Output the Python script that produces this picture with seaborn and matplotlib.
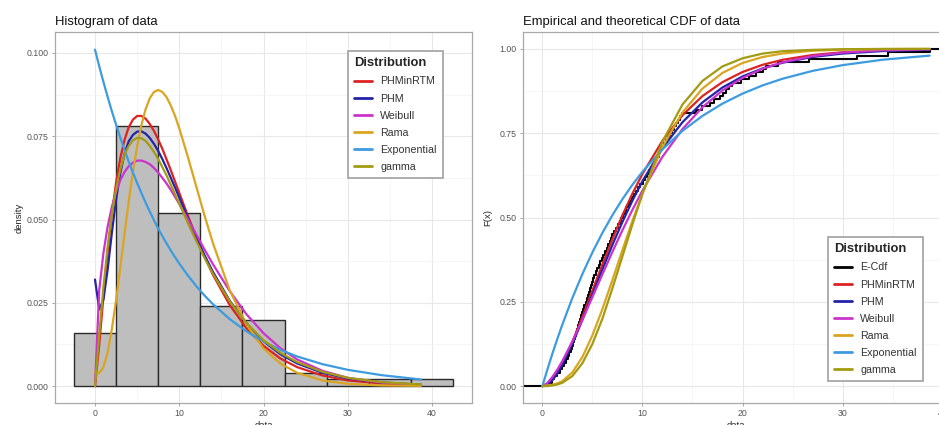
import numpy as np
import pandas as pd
import matplotlib
matplotlib.use("Agg")
import matplotlib.pyplot as plt
from matplotlib.ticker import MultipleLocator, FormatStrFormatter
import seaborn as sns

# ---------------- data ----------------
data = [0.6, 1.0, 1.2, 1.5, 1.8, 2.0, 2.2, 2.4,
        2.6, 2.7, 2.9, 3.0, 3.1, 3.2, 3.3, 3.4, 3.5, 3.6, 3.7, 3.8, 3.9, 4.0,
        4.1, 4.2, 4.4, 4.5, 4.6, 4.7, 4.8, 4.9,
        5.0, 5.1, 5.2, 5.4, 5.5, 5.7, 5.8, 6.0, 6.1, 6.3, 6.5, 6.6, 6.8, 6.9,
        7.0, 7.2, 7.4,
        7.6, 7.8, 7.9, 8.1, 8.3, 8.4, 8.6, 8.8, 9.0, 9.2, 9.4, 9.6, 9.8,
        10.1, 10.3, 10.5, 10.7, 10.9, 11.1, 11.3, 11.5, 11.7, 11.8, 12.0, 12.2, 12.4,
        12.6, 12.8, 13.0, 13.2, 13.4, 13.6, 13.8, 14.0, 15.4, 16.0, 16.8, 17.2,
        17.8, 18.1, 18.4, 18.7, 19.0, 19.8, 20.6, 21.3, 22.0, 22.3,
        23.5, 26.6, 31.4, 34.5, 38.7]

dist_names = ["PHMinRTM", "PHM", "Weibull", "Rama", "Exponential", "gamma"]
dist_colors = ["#DD2222", "#2424A8", "#CC33CC", "#DAA520", "#3D9BE0", "#A39B12"]

# densities (left panel)
pdf_x = [0, 0.5, 1, 1.5, 2, 2.5, 3, 3.5, 4, 4.5, 5, 5.5, 6, 6.5, 7, 7.5, 8, 8.5,
         9, 9.5, 10, 11, 12, 13, 14, 16, 18, 20, 22, 24, 27, 30, 34, 38.7]
phminrtm_pdf = [0.0, 0.0124, 0.0269, 0.0402, 0.0517, 0.0611, 0.0684, 0.0739, 0.0777,
                0.0800, 0.0811, 0.0811, 0.0803, 0.0787, 0.0766, 0.0740, 0.0712, 0.0680,
                0.0648, 0.0614, 0.0580, 0.0513, 0.0449, 0.0389, 0.0334, 0.0243, 0.0173,
                0.0121, 0.0083, 0.0057, 0.0032, 0.0017, 0.0008, 0.0003]
phm_pdf = [0.0320, 0.0230, 0.0260, 0.0350, 0.0460, 0.0560, 0.0640, 0.0697, 0.0735,
           0.0754, 0.0764, 0.0765, 0.0758, 0.0745, 0.0727, 0.0706, 0.0681, 0.0654,
           0.0625, 0.0596, 0.0566, 0.0506, 0.0448, 0.0393, 0.0343, 0.0256, 0.0188,
           0.0135, 0.0096, 0.0068, 0.0040, 0.0023, 0.0011, 0.0004]
weibull_pdf = [0.0, 0.0288, 0.0400, 0.0479, 0.0538, 0.0583, 0.0618, 0.0643, 0.0660,
               0.0671, 0.0677, 0.0677, 0.0673, 0.0666, 0.0655, 0.0641, 0.0625, 0.0608,
               0.0589, 0.0568, 0.0547, 0.0502, 0.0456, 0.0410, 0.0366, 0.0285, 0.0215,
               0.0159, 0.0114, 0.0080, 0.0046, 0.0025, 0.0011, 0.0004]
rama_pdf = [0.0042, 0.0039, 0.0057, 0.0101, 0.0171, 0.0258, 0.0356, 0.0457, 0.0554,
            0.0643, 0.0720, 0.0783, 0.0831, 0.0864, 0.0883, 0.0889, 0.0883, 0.0867,
            0.0842, 0.0811, 0.0774, 0.0690, 0.0601, 0.0512, 0.0429, 0.0287, 0.0184,
            0.0113, 0.0068, 0.0040, 0.0017, 0.0007, 0.0002, 0.0001]
exp_pdf = [0.1010, 0.0960, 0.0913, 0.0868, 0.0825, 0.0785, 0.0746, 0.0709, 0.0674,
           0.0641, 0.0610, 0.0580, 0.0551, 0.0524, 0.0498, 0.0473, 0.0450, 0.0428,
           0.0407, 0.0387, 0.0368, 0.0333, 0.0301, 0.0272, 0.0246, 0.0201, 0.0164,
           0.0134, 0.0109, 0.0089, 0.0066, 0.0049, 0.0033, 0.0020]
gamma_pdf = [0.0, 0.0155, 0.0298, 0.0419, 0.0516, 0.0593, 0.0651, 0.0694, 0.0721,
             0.0738, 0.0745, 0.0744, 0.0736, 0.0721, 0.0703, 0.0682, 0.0657, 0.0632,
             0.0604, 0.0576, 0.0548, 0.0491, 0.0437, 0.0385, 0.0337, 0.0254, 0.0188,
             0.0138, 0.0100, 0.0072, 0.0043, 0.0025, 0.0012, 0.0005]

# cumulative distribution functions (right panel)
cdf_x = [0, 0.5, 1, 1.5, 2, 3, 4, 5, 6, 7, 8, 9, 10, 12, 14, 16, 18, 20,
         22, 24, 27, 30, 34, 38.7]
phminrtm_cdf = [0, 0.0050, 0.0187, 0.0397, 0.0662, 0.1310, 0.2054, 0.2836, 0.3613,
                0.4361, 0.5065, 0.5709, 0.6293, 0.7276, 0.8033, 0.8601, 0.9015, 0.9314,
                0.9527, 0.9676, 0.9818, 0.9900, 0.9955, 0.9983]
phm_cdf = [0, 0.0048, 0.0180, 0.0379, 0.0631, 0.1253, 0.1964, 0.2713, 0.3462,
           0.4187, 0.4867, 0.5501, 0.6076, 0.7056, 0.7825, 0.8413, 0.8855, 0.9182,
           0.9419, 0.9590, 0.9760, 0.9861, 0.9934, 0.9973]
weibull_cdf = [0, 0.0096, 0.0270, 0.0491, 0.0746, 0.1328, 0.1969, 0.2640, 0.3316,
               0.3981, 0.4622, 0.5229, 0.5797, 0.6800, 0.7621, 0.8270, 0.8767, 0.9138,
               0.9409, 0.9602, 0.9786, 0.9889, 0.9956, 0.9986]
rama_cdf = [0, 0.0020, 0.0042, 0.0081, 0.0148, 0.0408, 0.0864, 0.1505, 0.2285,
            0.3147, 0.4034, 0.4899, 0.5709, 0.7088, 0.8113, 0.8823, 0.9288, 0.9581,
            0.9758, 0.9863, 0.9944, 0.9977, 0.9994, 0.9999]
exp_cdf = [0, 0.0492, 0.0961, 0.1406, 0.1829, 0.2614, 0.3324, 0.3965, 0.4545,
           0.5069, 0.5543, 0.5971, 0.6358, 0.7024, 0.7569, 0.8013, 0.8377, 0.8673,
           0.8916, 0.9114, 0.9347, 0.9517, 0.9678, 0.9800]
gamma_cdf = [0, 0.0005, 0.0020, 0.0050, 0.0100, 0.0300, 0.0680, 0.1250, 0.2000,
             0.2900, 0.3850, 0.4800, 0.5700, 0.7250, 0.8350, 0.9050, 0.9480, 0.9720,
             0.9860, 0.9930, 0.9970, 0.9990, 0.9998, 1.0]

# ---------------- tables ----------------
def long_table(xs, series):
    parts = [pd.DataFrame({"x": xs, "y": ys, "Distribution": name})
             for name, ys in zip(dist_names, series)]
    return pd.concat(parts, ignore_index=True)


pdf_df = long_table(pdf_x, [phminrtm_pdf, phm_pdf, weibull_pdf, rama_pdf, exp_pdf, gamma_pdf])
cdf_df = long_table(cdf_x, [phminrtm_cdf, phm_cdf, weibull_cdf, rama_cdf, exp_cdf, gamma_cdf])
palette = dict(zip(dist_names, dist_colors))

# ---------------- style ----------------
sns.set_theme(style="white")
plt.rcParams["font.family"] = ["Liberation Sans", "DejaVu Sans"]

W, H = 939, 425
fig = plt.figure(figsize=(W / 100, H / 100), dpi=100)
ax1 = fig.add_axes([55 / W, 22 / H, 417 / W, 371 / H])
ax2 = fig.add_axes([523 / W, 22 / H, 426 / W, 371 / H])


def style_axes(ax, xlim, ylim, ystep, yfmt):
    ax.set_xlim(*xlim)
    ax.set_ylim(*ylim)
    ax.xaxis.set_major_locator(MultipleLocator(10))
    ax.xaxis.set_minor_locator(MultipleLocator(5))
    ax.yaxis.set_major_locator(MultipleLocator(ystep))
    ax.yaxis.set_minor_locator(MultipleLocator(ystep / 2))
    ax.yaxis.set_major_formatter(FormatStrFormatter(yfmt))
    ax.grid(which="major", color="#E8E8E8", lw=0.8)
    ax.grid(which="minor", color="#F3F3F3", lw=0.5)
    ax.set_axisbelow(True)
    for s in ax.spines.values():
        s.set_color("#A8A8A8")
        s.set_linewidth(0.9)
    ax.tick_params(which="major", bottom=True, left=True, length=2.5, width=0.7,
                   color="#A8A8A8", labelsize=6.3, labelcolor="#555555", pad=2)
    ax.tick_params(which="minor", length=0)


def make_legend(ax, handles, labels, anchor):
    leg = ax.legend(handles, labels, title="Distribution", loc="upper left",
                    bbox_to_anchor=anchor, bbox_transform=fig.transFigure,
                    borderaxespad=0, frameon=True, fancybox=False, framealpha=1,
                    edgecolor="#A0A0A0", fontsize=7.7,
                    title_fontproperties={"weight": "bold", "size": 9.4},
                    labelspacing=0.66, handlelength=1.6, handletextpad=0.8,
                    borderpad=0.6, alignment="left")
    leg.get_frame().set_linewidth(1.2)
    for t in leg.get_texts():
        t.set_color("#333333")
    for hl in leg.legend_handles:
        hl.set_linewidth(2.0)
    return leg


# ---------------- left: histogram + densities ----------------
sns.histplot(x=data, stat="density", binwidth=5, binrange=(-2.5, 42.5),
             color="#BEBEBE", edgecolor="#2A2A2A", linewidth=1.0, alpha=1, ax=ax1)
sns.lineplot(data=pdf_df, x="x", y="y", hue="Distribution", hue_order=dist_names,
             palette=palette, linewidth=1.6, estimator=None, ax=ax1,
             solid_joinstyle="round")
style_axes(ax1, (-4.75, 44.75), (-0.00506, 0.1063), 0.025, "%.3f")
ax1.set_title("Histogram of data", loc="left", fontsize=9.4, pad=5, color="#111111")
ax1.set_xlabel("data", fontsize=6.8, labelpad=2, color="#222222")
ax1.set_ylabel("density", fontsize=6.8, labelpad=2.5, color="#222222")
h1, l1 = ax1.get_legend_handles_labels()
make_legend(ax1, h1, l1, (348 / W, 1 - 51 / H))

# ---------------- right: ECDF + CDFs ----------------
sns.ecdfplot(x=data, color="black", linewidth=1.5, ax=ax2, label="E-Cdf")
sns.lineplot(data=cdf_df, x="x", y="y", hue="Distribution", hue_order=dist_names,
             palette=palette, linewidth=1.6, estimator=None, ax=ax2,
             solid_joinstyle="round")
style_axes(ax2, (-1.935, 40.635), (-0.05, 1.05), 0.25, "%.2f")
xl = ax2.get_xlim()
ax2.plot([xl[0], min(data)], [0, 0], color="black", lw=1.5, zorder=1.9)
ax2.plot([max(data), xl[1]], [1, 1], color="black", lw=1.5, zorder=1.9)
ax2.set_title("Empirical and theoretical CDF of data", loc="left", fontsize=9.4,
              pad=5, color="#111111")
ax2.set_xlabel("data", fontsize=6.8, labelpad=2, color="#222222")
ax2.set_ylabel("F(x)", fontsize=6.8, labelpad=5, color="#222222")
h2, l2 = ax2.get_legend_handles_labels()
make_legend(ax2, h2, l2, (828 / W, 1 - 237 / H))

fig.savefig("out.png", dpi=100)
